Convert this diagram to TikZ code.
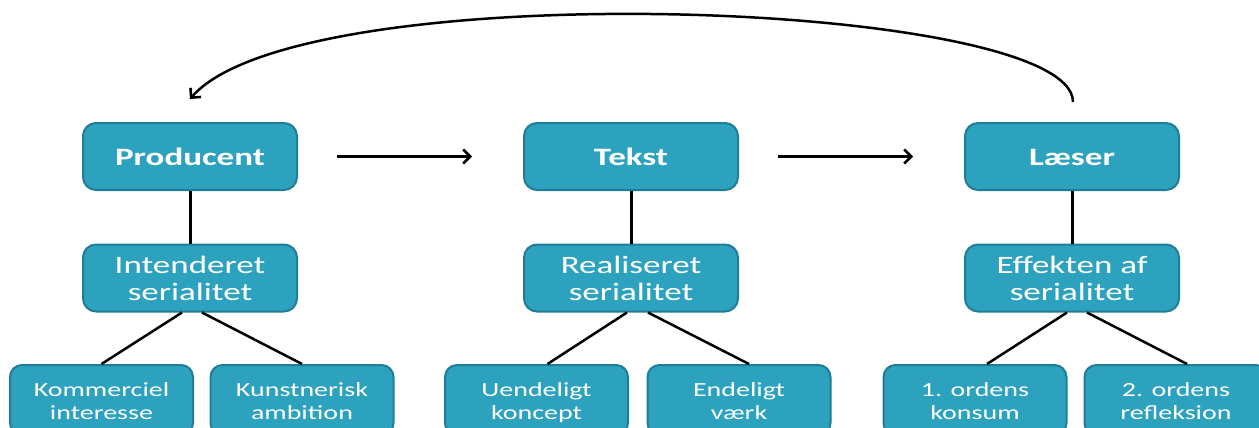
\documentclass[tikz,border=0pt]{standalone}
\usepackage{fontspec}
\setmainfont{Carlito}
\usetikzlibrary{arrows.meta}
\definecolor{boxfill}{HTML}{2DA2BF}
\definecolor{boxline}{HTML}{1F7D96}
\newcommand\wtxt[3]{\raisebox{0pt}[\dimexpr\height+7pt\relax][\depth]{\scalebox{1.4}[1]{\fontsize{#1}{#2}\selectfont\begin{tabular}{@{}c@{}}#3\end{tabular}}}}
\begin{document}
\begin{tikzpicture}[x=1pt,y=-1pt,
  box/.style={draw=boxline, line width=2pt, fill=boxfill, rounded corners=13pt, text=white,
              inner sep=0pt, minimum width=214pt, minimum height=67pt},
  small/.style={box, minimum width=183pt, minimum height=70pt, rounded corners=12pt},
  conn/.style={line width=3pt},
  diag/.style={line width=2.5pt},
  flow/.style={line width=2.5pt, -{Straight Barb[length=7pt,width=14pt]}}]
\useasboundingbox (0,0) rectangle (1259,428);

% top row
\node[box] (prod)   at (190,156.5)  {\wtxt{25}{27}{\bfseries Producent}};
\node[box] (tekst)  at (631,156.5)  {\wtxt{25}{27}{\bfseries Tekst}};
\node[box] (laeser) at (1072,156.5) {\wtxt{25}{27}{\bfseries Læser}};

% middle row
\node[box] (int)  at (190,278)  {\wtxt{25}{27}{Intenderet\\serialitet}};
\node[box] (real) at (631,278)  {\wtxt{25}{27}{Realiseret\\serialitet}};
\node[box] (eff)  at (1072,278) {\wtxt{25}{27}{Effekten af\\serialitet}};

% bottom row
\node[small] (k1) at (101.5,400) {\wtxt{20}{23}{Kommerciel\\interesse}};
\node[small] (k2) at (302,400)   {\wtxt{20}{23}{Kunstnerisk\\ambition}};
\node[small] (u1) at (536.5,400) {\wtxt{20}{23}{Uendeligt\\koncept}};
\node[small] (u2) at (739,400)   {\wtxt{20}{23}{Endeligt\\værk}};
\node[small] (o1) at (975,400)   {\wtxt{20}{23}{1. ordens\\konsum}};
\node[small] (o2) at (1176,400)  {\wtxt{20}{23}{2. ordens\\refleksion}};

% vertical connectors
\draw[conn] (prod) -- (int);
\draw[conn] (tekst) -- (real);
\draw[conn] (laeser) -- (eff);

% diagonal connectors
\draw[diag] ([xshift=-8pt]int.south) -- (k1.north);
\draw[diag] ([xshift=12pt]int.south) -- (k2.north);
\draw[diag] ([xshift=-4pt]real.south) -- ([xshift=11pt]u1.north);
\draw[diag] ([xshift=17pt]real.south) -- ([xshift=10pt]u2.north);
\draw[diag] ([xshift=-5pt]eff.south) -- ([xshift=12pt]o1.north);
\draw[diag] ([xshift=15pt]eff.south) -- ([xshift=11pt]o2.north);

% horizontal flow arrows
\draw[flow] ([xshift=39pt]prod.east) -- ([xshift=-51pt]tekst.west);
\draw[flow] ([xshift=39pt]tekst.east) -- ([xshift=-51pt]laeser.west);

% feedback curve
\draw[flow] ([xshift=1pt,yshift=20pt]laeser.north) .. controls (1073,0) and (300,-28) .. ([yshift=23pt]prod.north);
\end{tikzpicture}
\end{document}
